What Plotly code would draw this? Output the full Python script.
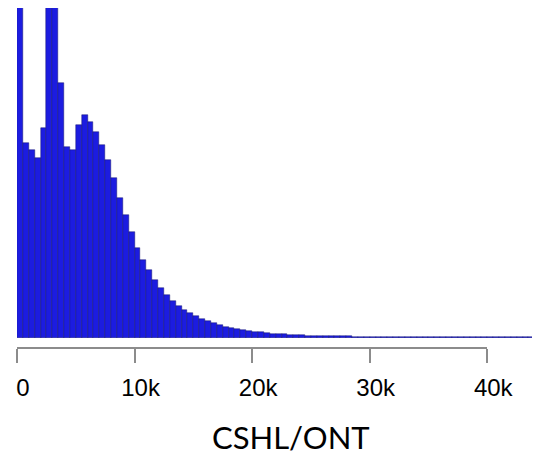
import plotly.graph_objects as go

# ---- data ----
bin_width_bp = 500
# read-length histogram counts per 500-bp bin (arbitrary units)
counts = [5200, 1950, 1880, 1800, 2100, 4600, 4100, 2550, 1910, 1880,
          2130, 2230, 2160, 2060, 1930, 1780, 1600, 1400, 1230, 1060,
          900, 780, 680, 580, 500, 430, 370, 320, 280, 250,
          220, 190, 170, 150, 130, 115, 100, 90, 80, 70,
          63, 56, 50, 45, 40, 36, 32, 29, 27, 25,
          23, 21, 20, 19, 18, 17, 16, 15, 15, 14,
          14, 13, 13, 12, 12, 12, 11, 11, 11, 10,
          10, 10, 10, 9, 9, 9, 9, 9, 8, 8,
          8, 8, 8, 8, 8, 8, 8, 8, 8]
bin_left = [i * bin_width_bp for i in range(len(counts))]
tick_values = [0, 10000, 20000, 30000, 40000]
tick_labels = ["0", "10k", "20k", "30k", "40k"]
title_text = "CSHL/ONT"

W, H = 558, 462
L = 17
plot_w = W - L
px_per_bp = 123.5 / 10000
x_max = plot_w / px_per_bp

fig = go.Figure()
fig.add_trace(go.Bar(
    x=[b + bin_width_bp / 2 for b in bin_left],
    y=counts,
    width=bin_width_bp,
    marker=dict(color="#1c1ce0", line=dict(color="rgb(20,20,110)", width=0.5)),
    hoverinfo="skip",
    showlegend=False,
))
# invisible trace to carry the R-style axis
fig.add_trace(go.Scatter(
    x=tick_values, y=[None] * len(tick_values), xaxis="x2", yaxis="y",
    mode="markers", marker=dict(opacity=0), showlegend=False, hoverinfo="skip",
))

axis_frac = (tick_values[-1] * px_per_bp) / plot_w

fig.update_layout(
    width=W, height=H,
    margin=dict(l=L, r=0, t=0, b=0),
    paper_bgcolor="white", plot_bgcolor="rgba(0,0,0,0)",
    bargap=0,
    xaxis=dict(range=[0, x_max], visible=False, domain=[0, 1], fixedrange=True),
    yaxis=dict(range=[0, 3300], visible=False, domain=[1 - 338 / H, 1 - 8 / H]),
    xaxis2=dict(
        anchor="free", position=1 - 348 / H,
        domain=[0, axis_frac], range=[0, tick_values[-1]],
        tickmode="array", tickvals=tick_values, ticktext=tick_labels,
        showline=True, linecolor="#8c8c8c", linewidth=1.5,
        ticks="outside", ticklen=14, tickwidth=1.5, tickcolor="#8c8c8c",
        showgrid=False, zeroline=False,
        tickfont=dict(family="Liberation Sans, Arial", size=24, color="black"),
        ticklabelshift=6, ticklabelstandoff=4,
    ),
    annotations=[dict(
        text=title_text, xref="paper", yref="paper",
        x=(305 - L) / plot_w, y=1 - 437 / H, xanchor="center", yanchor="middle",
        showarrow=False, font=dict(family="Lato", size=31, color="black"),
    )],
)

fig.write_html("out.html")
